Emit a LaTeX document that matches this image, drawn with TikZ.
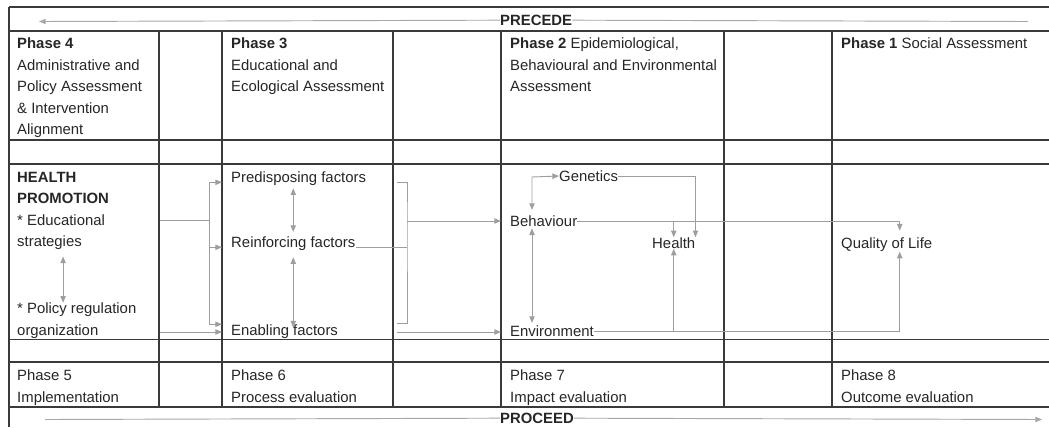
\documentclass[tikz,border=0pt]{standalone}
\usepackage{fontspec}
\setmainfont{Liberation Sans}
\usetikzlibrary{arrows.meta}
\definecolor{gridc}{HTML}{3A3A3A}
\definecolor{linkc}{HTML}{9E9E9E}
\definecolor{flowc}{HTML}{A8A8A8}

\begin{document}
\begin{tikzpicture}[x=0.3mm,y=0.3mm]
	\tikzstyle{every node}+=[inner sep=0pt, text=black!85, font=\fontsize{12.7}{18.3}\selectfont]
	\tikzstyle{cell}=[anchor=north west, align=left]
	\tikzstyle{txt}=[anchor=base west]
	\tikzstyle{grid}=[draw=gridc, line width=0.9pt]
	\tikzstyle{conn}=[draw=linkc, line width=0.8pt, >={Triangle[length=2mm,width=1.6mm]}]
	\tikzstyle{into}=[conn, ->, shorten >=2.7mm]
	\tikzstyle{both}=[conn, <->, shorten <=1mm, shorten >=1mm]
	\tikzstyle{flow}=[draw=flowc, line width=0.8pt, >={Triangle[length=2mm,width=1.6mm]}]
	\useasboundingbox (0,0) rectangle (1049,-427);

	% table
	\foreach \y in {7,31,140,164,339.5,362,407}
		\draw[grid] (9,-\y) -- (1049,-\y);
	\foreach \x in {159,222,393,501,724,832}
		\draw[grid] (\x,-31) -- (\x,-407);
	\draw[grid] (9,-7) -- (9,-427);

	% precede / proceed
	\node[txt, font=\fontsize{12.7}{18.3}\selectfont\bfseries] (precede) at (500,-25.3) {PRECEDE};
	\node[txt, font=\fontsize{12.7}{18.3}\selectfont\bfseries] (proceed) at (500,-423.3) {PROCEED};
	\coordinate (prectip) at (39,-21.5);
	\coordinate (precend) at (1028,-21.5);
	\coordinate (proctail) at (45,-419.5);
	\coordinate (proctip) at (1042,-419.5);
	\draw[flow] (precend) -- (precede.east);
	\draw[flow, ->] (precede.west) -- (prectip);
	\draw[flow] (proctail) -- (proceed.west);
	\draw[flow, ->] (proceed.east) -- (proctip);

	% headings
	\node[cell] (ph4) at (17,-37.7) {\textbf{Phase 4}\\Administrative and\\Policy Assessment\\\& Intervention\\Alignment};
	\node[cell] (ph3) at (231,-37.7) {\textbf{Phase 3}\\Educational and\\Ecological Assessment};
	\node[cell] (ph2) at (510,-37.7) {\textbf{Phase 2} Epidemiological,\\Behavioural and Environmental\\Assessment};
	\node[cell] (ph1) at (841,-37.7) {\textbf{Phase 1} Social Assessment};

	% factors
	\node[cell] (hp) at (17,-171.7) {\textbf{HEALTH}\\\textbf{PROMOTION}\\* Educational\\strategies};
	\node[cell] (pol) at (17,-302.7) {* Policy regulation\\organization};
	\node[txt] (pre) at (231,-182.3) {Predisposing factors};
	\node[txt] (reinf) at (231,-247.3) {Reinforcing factors};
	\node[txt] (enab) at (231,-335.3) {Enabling factors};
	\node[txt] (gen) at (559,-181.3) {Genetics};
	\node[txt] (beh) at (510,-226.3) {Behaviour};
	\node[txt] (env) at (510,-336.3) {Environment};
	\node[txt] (hlth) at (652,-248.3) {Health};
	\node[txt] (qol) at (841,-248.3) {Quality of Life};

	% evaluation
	\node[cell] (ph5) at (17,-369.7) {Phase 5\\Implementation};
	\node[cell] (ph6) at (231,-369.7) {Phase 6\\Process evaluation};
	\node[cell] (ph7) at (510,-369.7) {Phase 7\\Impact evaluation};
	\node[cell] (ph8) at (841,-369.7) {Phase 8\\Outcome evaluation};

	% links
	\coordinate (hpout) at (160,-220);
	\coordinate (hpfork) at (209,-220);
	\coordinate (orgout) at (160,-332);
	\coordinate (brtop) at (397,-182);
	\coordinate (brout) at (407,-221);
	\coordinate (brbot) at (397,-323);
	\coordinate (envin) at (397,-332);
	\coordinate (bend) at (532,-177);

	\draw[both, shorten <=2mm, shorten >=0mm] (hp.south) -- (hp.south |- pol.north);
	\draw[conn] (hpout) -- (hpfork);
	\draw[into] (hpfork) |- (pre.base west);
	\draw[into] (hpfork) |- (reinf.base west);
	\draw[into] (hpfork) |- (enab.north west);
	\draw[into] (orgout) -- (orgout -| enab.west);

	\draw[both, shorten <=0.8mm, shorten >=1.3mm] (reinf.north |- pre.south) -- (reinf.north);
	\draw[both, shorten <=2mm, shorten >=-1mm] (reinf.south) -- (reinf.south |- enab.north);
	\draw[conn] (reinf.base east) -- (reinf.base east -| brout);
	\draw[conn] (brtop) -| (brout) |- (brbot);
	\draw[into] (brout) -- (brout -| beh.west);
	\draw[into] (envin) -- (envin -| env.west);

	\draw[both, shorten <=0mm, shorten >=1.6mm] (gen.west) -- (bend) -- (bend |- beh.north);
	\draw[both, shorten <=0.5mm, shorten >=0.7mm] (bend |- beh.south) -- (bend |- env.north);
	\draw[conn, ->] (gen.east) -| (hlth.north east);
	\draw[conn, ->] (beh.east -| hlth.north) -- (hlth.north);
	\draw[conn, ->] (env.east -| hlth.south) -- (hlth.south);
	\draw[conn, ->, shorten >=2mm] (beh.east) -| ([xshift=3.9mm]qol.north);
	\draw[conn, ->] (env.east) -| ([xshift=3.9mm]qol.south);
\end{tikzpicture}
\end{document}
